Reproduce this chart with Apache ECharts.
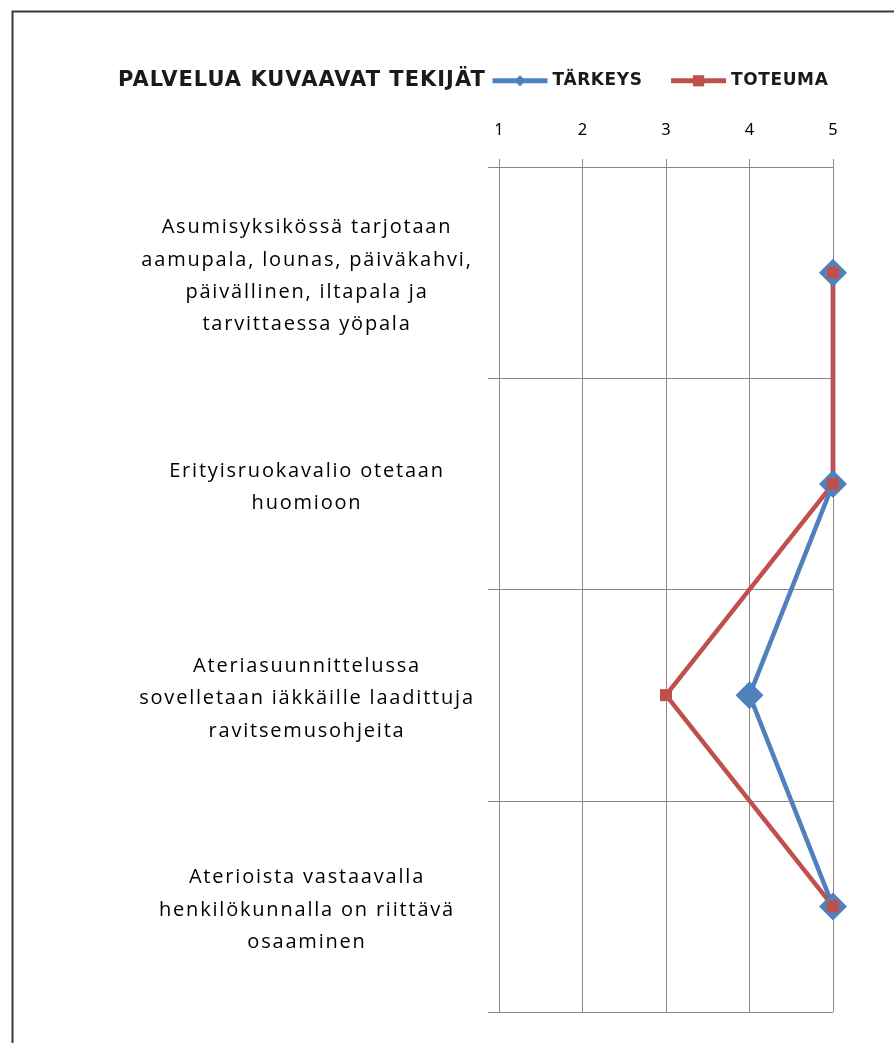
<!DOCTYPE html>
<html><head><meta charset="utf-8">
<script src="https://cdn.jsdelivr.net/npm/echarts@6/dist/echarts.min.js"></script>
<style>html,body{margin:0;padding:0;background:#fff}#c{width:894px;height:1043px}</style>
</head><body><div id="c"></div>
<script>
const categories = [
  "Asumisyksikössä tarjotaan\naamupala, lounas, päiväkahvi,\npäivällinen, iltapala ja\ntarvittaessa yöpala",
  "Erityisruokavalio otetaan\nhuomioon",
  "Ateriasuunnittelussa\nsovelletaan iäkkäille laadittuja\nravitsemusohjeita",
  "Aterioista vastaavalla\nhenkilökunnalla on riittävä\nosaaminen"
];
const tarkeys = [5, 5, 4, 5];
const toteuma = [5, 5, 3, 5];
const valueTicks = [1, 2, 3, 4, 5];
const titleText = "PALVELUA KUVAAVAT TEKIJÄT";
const seriesNames = ["TÄRKEYS", "TOTEUMA"];

// Emulate the wider letter spacing of the original rendering (text stays real text).
(function () {
  const proto = CanvasRenderingContext2D.prototype;
  const desc = Object.getOwnPropertyDescriptor(proto, 'font');
  if (!desc || !('letterSpacing' in proto)) return;
  Object.defineProperty(proto, 'font', {
    configurable: true,
    get() { return desc.get.call(this); },
    set(v) {
      desc.set.call(this, v);
      let ls = '0px';
      if (/Open Sans/.test(v)) ls = '1.8px';
      else if (/21px.*DejaVu/.test(v)) ls = '1px';
      else if (/DejaVu/.test(v)) ls = '0.6px';
      this.letterSpacing = ls;
    }
  });
})();

const chart = echarts.init(document.getElementById('c'), null, {renderer: 'canvas'});
const LABEL_FONT = 'Open Sans';
const HEAD_FONT = 'DejaVu Sans';
chart.setOption({
  animation: false,
  backgroundColor: '#fff',
  graphic: [{
    type: 'rect', left: 10, top: 9, shape: {width: 950, height: 1100},
    style: {fill: 'none', stroke: '#3a3a3a', lineWidth: 2}, silent: true
  }],
  title: {
    text: titleText, left: 113, top: 65,
    textStyle: {fontFamily: HEAD_FONT, fontSize: 21, fontWeight: 'bold', color: '#1a1a1a'}
  },
  legend: {
    left: 485, top: 67, itemGap: 26, itemWidth: 55, itemHeight: 14,
    textStyle: {fontFamily: HEAD_FONT, fontSize: 17, fontWeight: 'bold', color: '#1a1a1a'},
    lineStyle: {width: 5},
    data: seriesNames
  },
  grid: {left: 499, right: 61, top: 167, bottom: 31, containLabel: false},
  xAxis: {
    type: 'value', position: 'top', min: valueTicks[0], max: valueTicks[valueTicks.length - 1], interval: 1,
    axisLine: {show: true, lineStyle: {color: '#888', width: 1}},
    axisTick: {show: true, length: 8, lineStyle: {color: '#888'}},
    axisLabel: {margin: 28, fontFamily: 'Noto Sans', fontSize: 16.5, color: '#000'},
    splitLine: {show: true, lineStyle: {color: '#888', width: 1}}
  },
  yAxis: {
    type: 'category', inverse: true, data: categories, boundaryGap: true,
    axisLine: {show: true, lineStyle: {color: '#888', width: 1}},
    axisTick: {show: true, length: 11, interval: 0, lineStyle: {color: '#888'}},
    axisLabel: {
      margin: 192, align: 'center', interval: 0,
      formatter: function (v) {
        return v.split('\n').map(function (l) { return '{t|' + l + '}'; }).join('\n');
      },
      rich: {t: {fontFamily: LABEL_FONT, fontSize: 20, lineHeight: 32.4, color: '#000', padding: [7, 0, 0, 0]}},
      fontFamily: LABEL_FONT, fontSize: 20, color: '#000'
    },
    splitLine: {show: true, interval: 0, lineStyle: {color: '#888', width: 1}}
  },
  series: [
    {
      name: seriesNames[0], type: 'line', data: tarkeys,
      symbol: 'diamond', symbolSize: 28,
      lineStyle: {color: '#4F81BD', width: 4.5},
      itemStyle: {color: '#4F81BD'}
    },
    {
      name: seriesNames[1], type: 'line', data: toteuma,
      symbol: 'rect', symbolSize: 12,
      lineStyle: {color: '#C0504D', width: 4.5},
      itemStyle: {color: '#C0504D'}
    }
  ]
});
</script></body></html>
